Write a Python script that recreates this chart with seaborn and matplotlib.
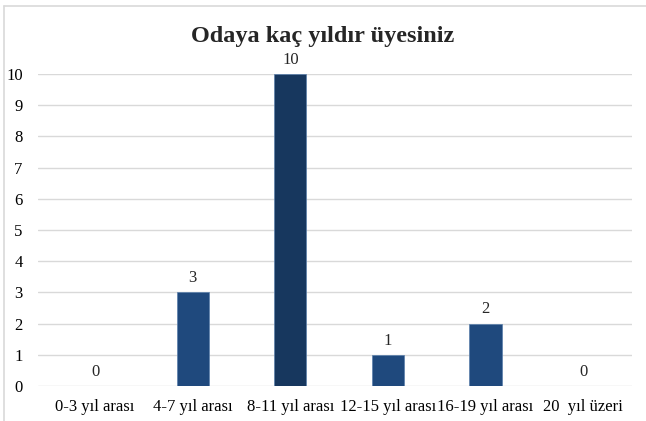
import matplotlib
matplotlib.use("Agg")
import matplotlib.pyplot as plt
import seaborn as sns
import pandas as pd
from matplotlib.lines import Line2D

# chart data
categories = ["0-3 yıl arası", "4-7 yıl arası", "8-11 yıl arası",
              "12-15 yıl arası", "16-19 yıl arası", "20  yıl üzeri"]
counts = [0, 3, 10, 1, 2, 0]
bar_colors = ["#1F497D", "#1F497D", "#17375E", "#1F497D", "#1F497D", "#1F497D"]

df = pd.DataFrame({"Kategori": categories, "Sayı": counts})

sns.set_theme(style="white")
plt.rcParams['font.family'] = ['Liberation Serif', 'DejaVu Serif']

fig = plt.figure(figsize=(6.46, 4.21), dpi=100)
ax = fig.add_axes([0.0588, 0.0831, 0.9195, 0.7411])

sns.barplot(data=df, x="Kategori", y="Sayı", hue="Kategori",
            palette=bar_colors, width=0.33, legend=False, ax=ax,
            saturation=1, edgecolor="#5a7fab", linewidth=0.5)

ax.set_xlim(-0.585, 5.5)
ax.set_ylim(0, 10)
ax.set_yticks(range(0, 11))
ax.yaxis.grid(True, color="#d9d9d9", linewidth=1)
ax.set_axisbelow(True)
for s in ax.spines.values():
    s.set_visible(False)
ax.set_xlabel("")
ax.set_ylabel("")
ax.tick_params(axis="both", length=0, labelsize=12, colors="black")
ax.tick_params(axis="y", pad=11)
ax.tick_params(axis="x", pad=9)

for i, v in enumerate(counts):
    ax.text(i, v + 0.2, str(v), ha="center", va="bottom", fontsize=12)

fig.text(0.5, 0.914, "Odaya kaç yıldır üyesiniz", ha="center", va="center",
         fontsize=17.5, fontweight="bold")

# outer frame of the chart area
fig.add_artist(Line2D([4 / 646, 1], [1 - 6 / 421, 1 - 6 / 421],
                      transform=fig.transFigure, color="#d9d9d9", linewidth=1.2))
fig.add_artist(Line2D([4 / 646, 4 / 646], [0, 1 - 6 / 421],
                      transform=fig.transFigure, color="#d9d9d9", linewidth=1.2))

fig.savefig("out.png", dpi=100)
